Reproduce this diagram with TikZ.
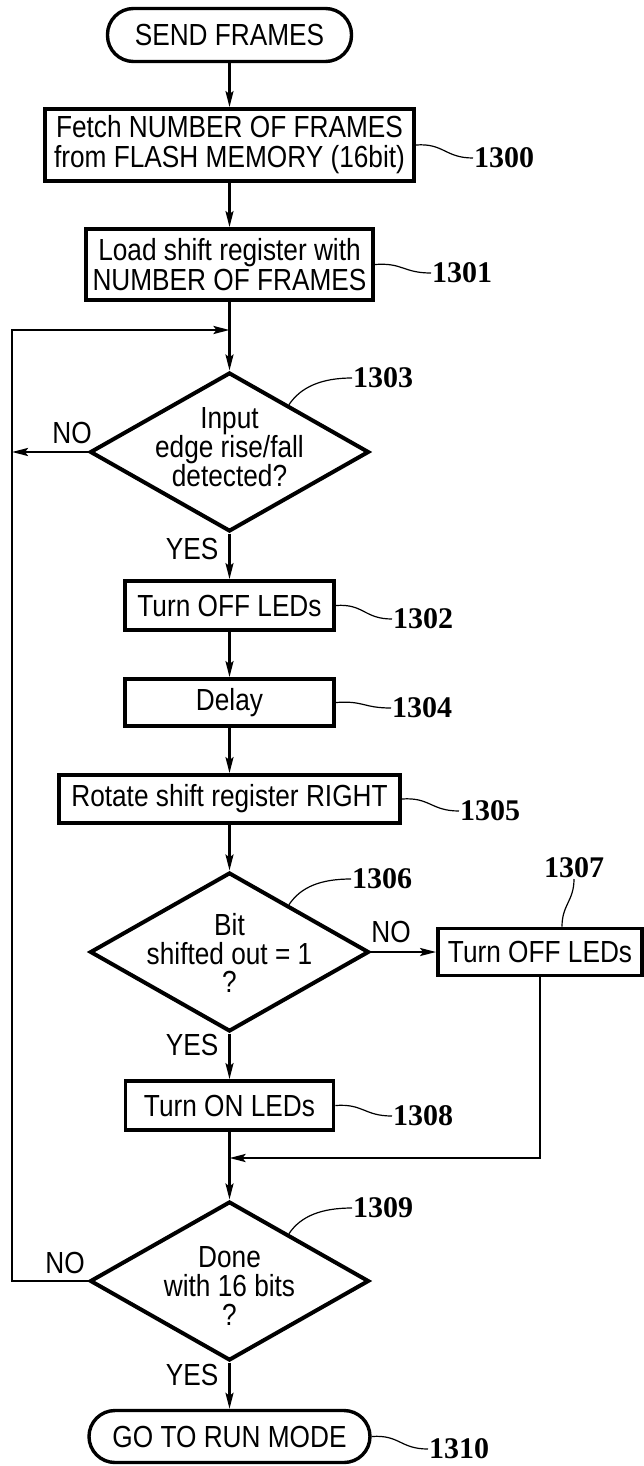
\documentclass[tikz,border=0pt]{standalone}
\usepackage{fontspec}
\setmainfont{Liberation Sans}[FakeStretch=0.86]
\newfontfamily\numfont{Liberation Serif}
\usetikzlibrary{shapes.geometric,arrows.meta,calc}
\begin{document}
\begin{tikzpicture}[x=1pt,y=-1pt,
  every node/.append style={font=\fontsize{30.5}{30}\selectfont},
  proc/.style={draw,line width=3.8pt,inner sep=0pt,align=center},
  term/.style={draw,line width=3.4pt,rounded corners=26pt,inner sep=0pt,align=center},
  dec/.style={draw,diamond,line width=4pt,inner sep=0pt},
  dtext/.style={align=center,inner sep=0pt,font=\fontsize{30.5}{28.7}\selectfont},
  flow/.style={line width=2.4pt,-{Stealth[length=16pt,width=8pt,inset=3pt]}},
  lead/.style={line width=1.2pt},
  ref/.style={inner sep=1pt,font=\numfont\bfseries\fontsize{30}{30}\selectfont},
  yn/.style={inner sep=0pt}
]
\useasboundingbox (0,0) rectangle (644,1466);

% nodes
\node[term,minimum width=244pt,minimum height=53pt] (start) at (229.5,35) {SEND FRAMES};
\node[proc,minimum width=369pt,minimum height=72pt] (b1300) at (229.5,145) {Fetch NUMBER OF FRAMES\\from FLASH MEMORY (16bit)};
\node[proc,minimum width=287pt,minimum height=71pt] (b1301) at (229.5,264.5) {Load shift register with\\NUMBER OF FRAMES};
\coordinate (j1) at (229.5,330);
\node[dec,minimum width=279pt,minimum height=159pt] (d1303) at (229.5,452) {};
\node[dtext] (t1303) at (229.5,447) {Input\\edge rise/fall\\detected?};
\node[proc,minimum width=209pt,minimum height=49pt] (b1302) at (229.5,605.5) {Turn OFF LEDs};
\node[proc,minimum width=209pt,minimum height=47pt] (b1304) at (229.5,702.5) {Delay};
\node[proc,minimum width=341pt,minimum height=48pt] (b1305) at (229.5,799) {Rotate shift register RIGHT};
\node[dec,minimum width=279pt,minimum height=159pt] (d1306) at (229.5,952) {};
\node[dtext] (t1306) at (229.5,953) {Bit\\shifted out = 1\\?};
\node[proc,minimum width=204pt,minimum height=47pt] (b1307) at (540,952) {Turn OFF LEDs};
\node[proc,minimum width=208pt,minimum height=49pt] (b1308) at (229.5,1105.5) {Turn ON LEDs};
\coordinate (j2) at (229.5,1158);
\node[dec,minimum width=279pt,minimum height=159pt] (d1309) at (229.5,1281) {};
\node[dtext] (t1309) at (229.5,1286) {Done\\with 16 bits\\?};
\node[term,minimum width=281pt,minimum height=52pt] (end) at (229.5,1436.5) {GO TO RUN MODE};

% loop coordinates
\coordinate (lx1) at (12,452);
\coordinate (l1) at (12,1281);
\coordinate (l2) at (12,330);

% connectors
\draw[flow] (start) -- (b1300);
\draw[flow] (b1300) -- (b1301);
\draw[flow] (b1301) -- (d1303);
\draw[flow] (d1303.west) -- (lx1);
\draw[flow] (d1309.west) -- (l1) -- (l2) -- (j1);
\draw[flow] (d1303) -- (b1302);
\draw[flow] (b1302) -- (b1304);
\draw[flow] (b1304) -- (b1305);
\draw[flow] (b1305) -- (d1306);
\draw[flow] (d1306.east) -- (b1307.west);
\draw[flow] (d1306) -- (b1308);
\draw[flow] (b1307.south) |- (j2);
\draw[flow] (b1308) -- (d1309);
\draw[flow] (d1309) -- (end);

% YES / NO labels
\node[yn] (no1) at (72,433) {NO};
\node[yn] (yes1) at (192,549) {YES};
\node[yn] (no2) at (391,932) {NO};
\node[yn] (yes2) at (192,1045) {YES};
\node[yn] (no3) at (65,1263) {NO};
\node[yn] (yes3) at (192,1375) {YES};

% reference numerals
\node[ref,anchor=west] (n1300) at (473,158) {1300};
\node[ref,anchor=west] (n1301) at (431,273) {1301};
\node[ref,anchor=west] (n1303) at (352,378) {1303};
\node[ref,anchor=west] (n1302) at (392,619) {1302};
\node[ref,anchor=west] (n1304) at (391,708) {1304};
\node[ref,anchor=west] (n1305) at (459,811) {1305};
\node[ref,anchor=west] (n1306) at (351,879) {1306};
\node[ref,anchor=south] (n1307) at (574,879) {1307};
\node[ref,anchor=west] (n1308) at (392,1116) {1308};
\node[ref,anchor=west] (n1309) at (352,1208) {1309};
\node[ref,anchor=west] (n1310) at (428,1449) {1310};

% leaders
\draw[lead] (b1300.east) .. controls ($(b1300.east)+(28,-2)$) and ($(n1300.west)+(-28,0)$) .. (n1300.west);
\draw[lead] (b1301.east) .. controls ($(b1301.east)+(28,-2)$) and ($(n1301.west)+(-28,0)$) .. (n1301.west);
\coordinate (s1303) at ($(d1303.north)!0.42!(d1303.east)$);
\draw[lead] (s1303) .. controls ($(s1303)+(12,-18)$) and ($(n1303.west)+(-30,0)$) .. (n1303.west);
\draw[lead] (b1302.east) .. controls ($(b1302.east)+(28,-2)$) and ($(n1302.west)+(-28,0)$) .. (n1302.west);
\draw[lead] (b1304.east) .. controls ($(b1304.east)+(28,-2)$) and ($(n1304.west)+(-28,0)$) .. (n1304.west);
\draw[lead] (b1305.east) .. controls ($(b1305.east)+(28,-2)$) and ($(n1305.west)+(-28,0)$) .. (n1305.west);
\coordinate (s1306) at ($(d1306.north)!0.42!(d1306.east)$);
\draw[lead] (s1306) .. controls ($(s1306)+(12,-18)$) and ($(n1306.west)+(-30,0)$) .. (n1306.west);
\coordinate (s1307) at ($(b1307.north)+(22,0)$);
\draw[lead] (s1307) .. controls ($(s1307)+(0,-22)$) and ($(n1307.south)+(0,22)$) .. (n1307.south);
\draw[lead] (b1308.east) .. controls ($(b1308.east)+(28,-2)$) and ($(n1308.west)+(-28,0)$) .. (n1308.west);
\coordinate (s1309) at ($(d1309.north)!0.42!(d1309.east)$);
\draw[lead] (s1309) .. controls ($(s1309)+(12,-18)$) and ($(n1309.west)+(-30,0)$) .. (n1309.west);
\draw[lead] (end.east) .. controls ($(end.east)+(28,-2)$) and ($(n1310.west)+(-28,0)$) .. (n1310.west);
\end{tikzpicture}
\end{document}
